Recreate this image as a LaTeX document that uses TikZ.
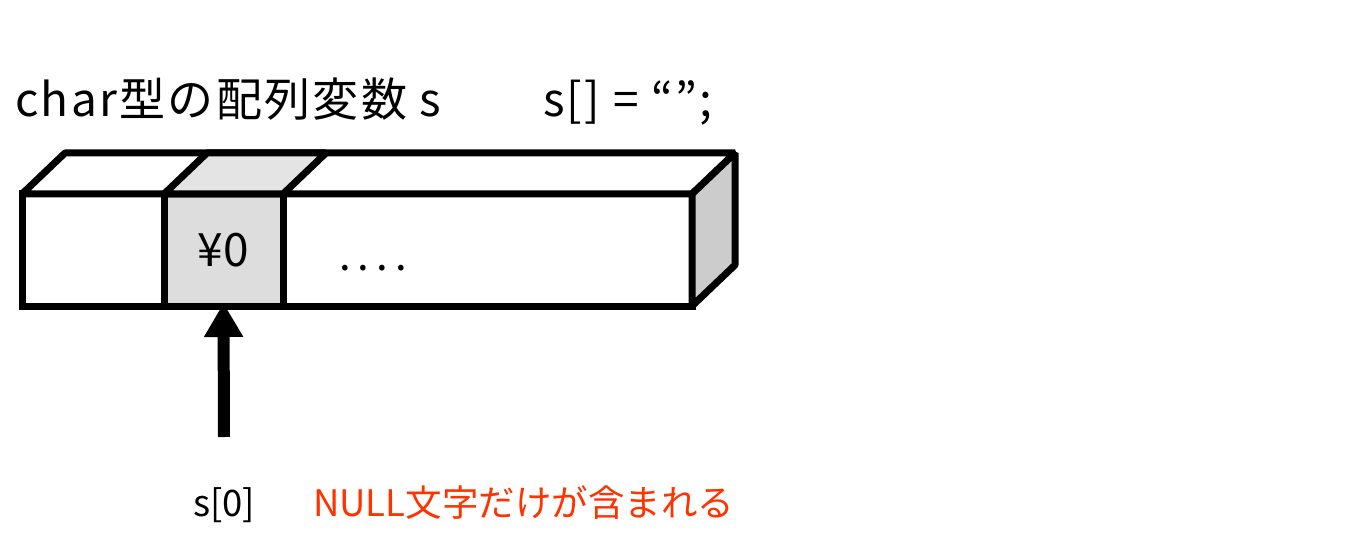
\documentclass[tikz,border=0pt]{standalone}
\usepackage{fontspec}
\setmainfont{Noto Sans CJK JP}
\newfontfamily\jpwide[LetterSpace=5]{Noto Sans CJK JP}
\usetikzlibrary{positioning}
\usetikzlibrary{arrows.meta}
\definecolor{cellgray}{HTML}{DDDDDD}
\definecolor{topgray}{HTML}{E4E4E4}
\definecolor{sidegray}{HTML}{CCCCCC}
\definecolor{nullred}{HTML}{FF3300}
\tikzstyle{cell} = [rectangle, draw, line width=7pt, minimum height=112pt, inner sep=0, outer sep=0]
\tikzstyle{face} = [draw, line width=7pt, line join=bevel]
\tikzstyle{txt} = [inner sep=0, anchor=base west]
\tikzstyle{ptr} = [-{Triangle[length=34pt,width=37pt]}, line width=12pt]

\begin{document}
\begin{tikzpicture}[x=1pt, y=-1pt, node distance=0pt]
    \useasboundingbox (0,0) rectangle (1370,556);
    \node (title) at (15,117) [txt, font=\jpwide\fontsize{46}{52}\selectfont] {char型の配列変数 s};
    \node (decl) at (543,117) [txt, font=\jpwide\fontsize{46}{52}\selectfont] {s[] = “”;};
    \node (first) at (93,250) [cell, minimum width=142pt] {};
    \node (nul) [right=of first, cell, minimum width=119pt, fill=cellgray, font=\fontsize{46}{50}\selectfont] {¥0};
    \node (rest) [right=of nul, cell, minimum width=409pt] {};
    \node (dots) at (339,270) [txt, font=\fontsize{42}{48}\selectfont] {.\hspace{0.17em}.\hspace{0.17em}.\hspace{0.17em}.};
    % top and side of the box
    \draw [face, fill=white] (first.north west) -- ([shift={(43,-41)}]first.north west)
        -- ([shift={(43,-41)}]rest.north east) -- (rest.north east) -- cycle;
    \draw [face, fill=topgray] (nul.north west) -- ([shift={(43,-41)}]nul.north west)
        -- ([shift={(43,-41)}]nul.north east) -- (nul.north east) -- cycle;
    \draw [face, fill=sidegray] (rest.north east) -- ([shift={(43,-41)}]rest.north east)
        -- ([shift={(43,-41)}]rest.south east) -- (rest.south east) -- cycle;
    \coordinate (tail) at (224,437);
    \draw [ptr, shorten >=-3pt] (tail) -- (nul.south);
    \node (idx) at (193,516) [txt, font=\fontsize{36.5}{42}\selectfont] {s[0]};
    \node (note) at (313,516) [txt, text=nullred, font=\fontsize{36.5}{42}\selectfont] {NULL文字だけが含まれる};
\end{tikzpicture}
\end{document}
